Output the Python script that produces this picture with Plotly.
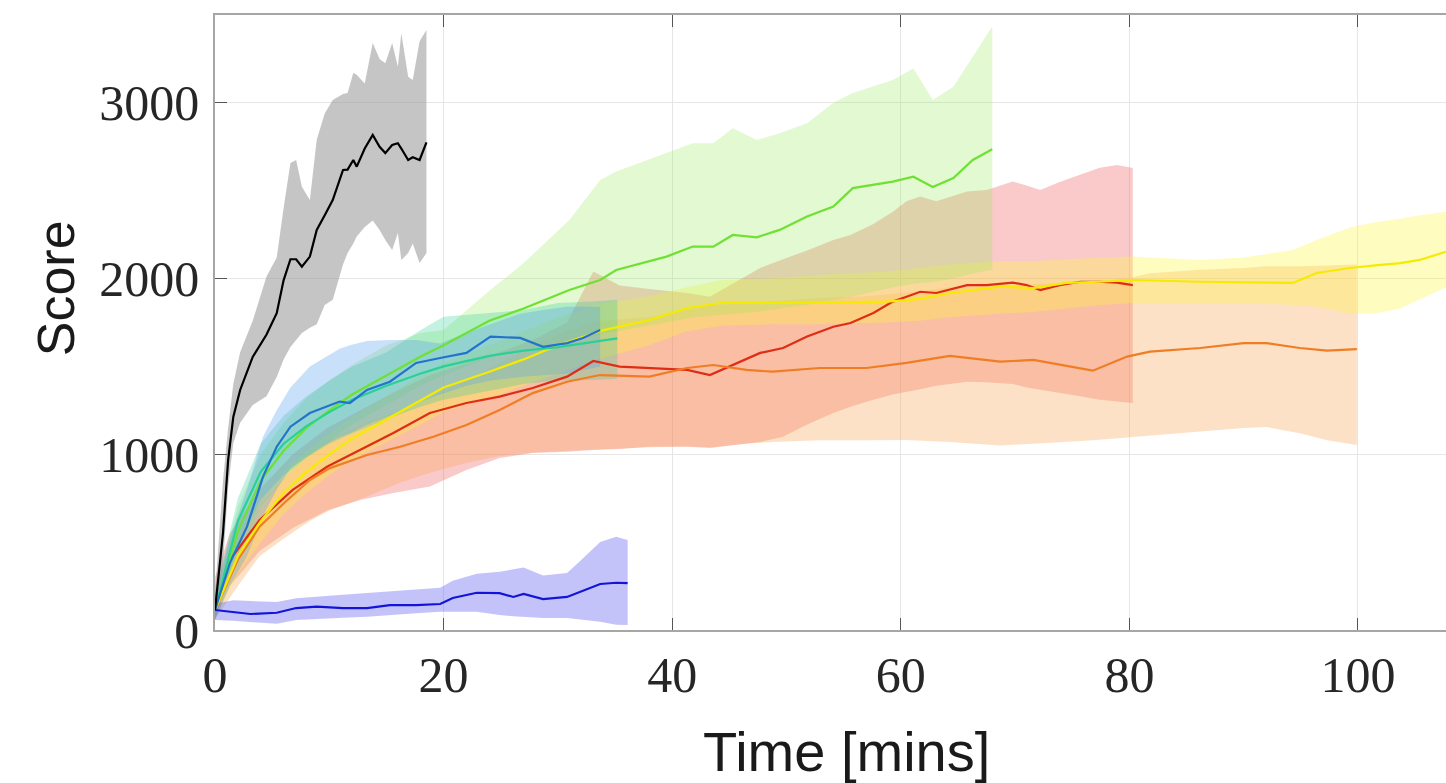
import plotly.graph_objects as go

# ---------------- data ----------------
black_x = [0, 0.3, 0.7, 1.15, 1.6, 2.2, 3.3, 4.5, 5.4, 6.0, 6.6, 7.1, 7.6, 8.3, 8.9, 9.6, 10.3, 11.2, 11.6, 12.1,
           12.4, 13.1, 13.8, 14.4, 14.9, 15.5, 16.0, 16.3, 16.9, 17.3, 17.9, 18.5]
black_mean = [114, 302, 552, 968, 1212, 1366, 1554, 1680, 1803, 1990, 2110, 2110, 2068, 2125, 2277, 2360, 2447, 2618,
              2620, 2675, 2637, 2740, 2817, 2750, 2714, 2760, 2770, 2740, 2675, 2690, 2675, 2775]
black_hi = [200, 500, 850, 1150, 1400, 1580, 1760, 2010, 2120, 2400, 2658, 2675, 2522, 2447, 2790, 2940, 3016, 3050,
            3056, 3170, 3160, 3110, 3340, 3250, 3225, 3340, 3205, 3396, 3148, 3130, 3350, 3415]
black_lo = [60, 200, 380, 814, 1064, 1180, 1280, 1330, 1440, 1540, 1610, 1650, 1690, 1720, 1740, 1850, 1880, 2080,
            2145, 2200, 2240, 2294, 2330, 2277, 2220, 2163, 2260, 2106, 2145, 2200, 2088, 2145]

navy_x = [0, 1.6, 3.1, 5.4, 7.1, 8.9, 11.2, 13.3, 15.3, 17.6, 19.7, 20.8, 22.9, 24.9, 26.1, 27.0, 28.7, 30.8, 31.9,
          33.7, 35.1, 36.1]
navy_mean = [114, 102, 91, 98, 125, 133, 125, 125, 142, 142, 148, 182, 212, 210, 188, 205, 176, 188, 216, 262, 269, 267]
navy_hi = [150, 170, 165, 160, 180, 190, 200, 210, 220, 232, 240, 280, 320, 332, 345, 355, 310, 324, 390, 501, 531, 512]
navy_lo = [57, 52, 47, 35, 57, 62, 70, 76, 85, 96, 104, 104, 104, 85, 78, 72, 68, 68, 60, 47, 30, 28]

blue_x = [0, 1.3, 2.8, 4.2, 5.4, 6.6, 8.3, 9.8, 10.9, 11.8, 13.3, 15.3, 17.6, 19.7, 22, 24.1, 26.7, 28.7, 30.8, 32.2, 33.7]
blue_mean = [114, 381, 588, 873, 1043, 1157, 1235, 1271, 1300, 1292, 1366, 1413, 1520, 1548, 1577, 1670, 1662, 1612,
             1633, 1662, 1707]
blue_hi = [200, 520, 800, 1100, 1250, 1380, 1499, 1560, 1600, 1620, 1645, 1650, 1650, 1630, 1690, 1740, 1800, 1821,
           1840, 1840, 1840]
blue_lo = [60, 250, 420, 650, 800, 920, 1000, 1060, 1100, 1120, 1170, 1220, 1290, 1340, 1390, 1420, 1440, 1450, 1460,
           1480, 1500]

teal_x = [0, 2, 4, 6, 8, 10, 12, 15, 18, 20, 24, 27, 30, 33, 35.2]
teal_mean = [114, 620, 900, 1060, 1160, 1240, 1310, 1390, 1460, 1500, 1560, 1590, 1610, 1640, 1660]
teal_hi = [200, 750, 1060, 1220, 1330, 1420, 1500, 1580, 1707, 1783, 1804, 1821, 1861, 1869, 1880]
teal_lo = [60, 480, 740, 880, 980, 1060, 1120, 1200, 1270, 1310, 1360, 1400, 1420, 1423, 1430]

lime_x = [0, 2, 4, 6, 8, 10, 12, 15, 18, 20, 24, 27, 31, 33.7, 35.1, 39.5, 41.8, 43.6, 45.3, 47.4, 49.4, 51.8, 54.1,
          55.8, 59.3, 61.1, 62.8, 64.6, 66.3, 68]
lime_mean = [114, 560, 850, 1020, 1150, 1250, 1340, 1450, 1556, 1620, 1760, 1830, 1935, 1992, 2049, 2125, 2182, 2182,
             2248, 2235, 2277, 2353, 2410, 2515, 2552, 2580, 2521, 2572, 2675, 2736]
lime_hi = [200, 700, 1000, 1180, 1320, 1420, 1510, 1620, 1690, 1707, 1930, 2088, 2334, 2561, 2609, 2713, 2770, 2770,
           2855, 2789, 2827, 2884, 3000, 3056, 3130, 3196, 3016, 3092, 3263, 3434]
lime_lo = [60, 420, 700, 860, 980, 1080, 1170, 1280, 1390, 1450, 1550, 1600, 1650, 1680, 1700, 1750, 1780, 1790, 1800,
           1810, 1830, 1850, 1880, 1900, 1950, 1970, 1980, 2000, 2030, 2050]

yellow_x = [0, 2, 4, 6, 8, 10, 12, 15, 18, 20, 24, 27, 30, 34, 38, 41.3, 44.2, 48.6, 52.9, 58.8, 61.7, 64.3, 68.7,
            71.6, 74.5, 77.4, 80.3, 86.2, 90, 94.3, 96.4, 99.3, 101.5, 103.7, 105.4, 107.7]
yellow_mean = [114, 420, 620, 780, 900, 1000, 1090, 1200, 1310, 1380, 1470, 1540, 1620, 1707, 1764, 1832, 1861, 1861,
               1863, 1869, 1884, 1918, 1954, 1946, 1975, 1982, 1992, 1982, 1980, 1975, 2032, 2060, 2075, 2088, 2106,
               2153]
yellow_hi = [200, 520, 740, 900, 1020, 1120, 1210, 1330, 1450, 1520, 1620, 1700, 1780, 1860, 1900, 1950, 1990, 2000,
             2020, 2040, 2060, 2080, 2100, 2100, 2110, 2120, 2125, 2106, 2120, 2163, 2220, 2290, 2320, 2340, 2360, 2380]
yellow_lo = [60, 320, 500, 660, 780, 880, 970, 1070, 1170, 1240, 1320, 1390, 1460, 1550, 1620, 1700, 1730, 1740, 1740,
             1750, 1760, 1780, 1800, 1810, 1830, 1850, 1860, 1860, 1860, 1850, 1840, 1800, 1800, 1830, 1880, 1950]

orange_x = [0, 2, 3.9, 6, 8.3, 10, 13.3, 16.2, 19.1, 22, 24.9, 27.8, 30.8, 33.7, 38, 41.3, 43.6, 46.5, 48.8, 52.9, 57,
            60.5, 64.3, 68.7, 71.6, 76.8, 79.8, 81.8, 86.2, 90, 92, 94.9, 97.3, 99.9]
orange_mean = [114, 400, 588, 720, 854, 920, 996, 1043, 1100, 1167, 1252, 1348, 1413, 1451, 1442, 1491, 1508, 1480,
               1470, 1491, 1491, 1520, 1560, 1527, 1537, 1476, 1556, 1584, 1605, 1633, 1633, 1605, 1590, 1599]
orange_hi = [250, 520, 720, 860, 1000, 1080, 1180, 1250, 1330, 1420, 1520, 1620, 1700, 1760, 1780, 1820, 1850, 1860,
             1870, 1890, 1900, 1920, 1950, 1960, 1970, 1980, 2000, 2030, 2050, 2060, 2070, 2070, 2075, 2080]
orange_lo = [60, 250, 420, 520, 620, 680, 760, 840, 900, 950, 990, 1010, 1020, 1030, 1040, 1045, 1040, 1060, 1070,
             1080, 1080, 1081, 1070, 1050, 1060, 1080, 1100, 1110, 1130, 1150, 1155, 1120, 1080, 1053]

red_x = [0, 1.3, 3.9, 6.8, 9.8, 12.7, 15.6, 18.8, 22, 24.9, 27.8, 30.8, 33.1, 35.4, 38, 41.3, 43.3, 45, 47.7, 49.7,
         51.8, 54.1, 55.6, 57.6, 59.3, 60.5, 61.7, 63.1, 65.8, 67.5, 69.8, 71, 72.2, 73.9, 75.7, 77.4, 78.9, 80.3]
red_mean = [114, 398, 626, 797, 929, 1025, 1121, 1235, 1292, 1328, 1377, 1442, 1531, 1499, 1490, 1480, 1451, 1499,
            1577, 1605, 1670, 1726, 1747, 1804, 1869, 1897, 1925, 1918, 1963, 1963, 1977, 1963, 1935, 1963, 1982, 1982,
            1977, 1963]
red_hi = [300, 550, 800, 1000, 1150, 1250, 1350, 1450, 1520, 1580, 1650, 1750, 2040, 1960, 1940, 1918, 1897, 1960,
          2060, 2110, 2160, 2220, 2248, 2310, 2380, 2440, 2467, 2440, 2495, 2504, 2552, 2530, 2504, 2550, 2590, 2630,
          2647, 2629]
red_lo = [60, 250, 450, 580, 680, 740, 780, 816, 911, 979, 1007, 1015, 1025, 1030, 1043, 1043, 1036, 1050, 1070, 1100,
          1170, 1235, 1270, 1310, 1340, 1355, 1370, 1390, 1413, 1410, 1400, 1380, 1366, 1350, 1330, 1310, 1300, 1292]

x_ticks = [0, 20, 40, 60, 80, 100]
x_tick_labels = ["0", "20", "40", "60", "80", "100"]
y_ticks = [0, 1000, 2000, 3000]
y_tick_labels = ["0", "1000", "2000", "3000"]

# ---------------- series styling ----------------
series = [
    ("red", red_x, red_mean, red_lo, red_hi, "rgb(222,45,20)", "rgba(240,95,95,0.33)"),
    ("orange", orange_x, orange_mean, orange_lo, orange_hi, "rgb(240,125,35)", "rgba(246,170,95,0.35)"),
    ("yellow", yellow_x, yellow_mean, yellow_lo, yellow_hi, "rgb(245,235,0)", "rgba(255,245,60,0.32)"),
    ("lime", lime_x, lime_mean, lime_lo, lime_hi, "rgb(110,225,50)", "rgba(150,235,90,0.28)"),
    ("teal", teal_x, teal_mean, teal_lo, teal_hi, "rgb(40,210,150)", "rgba(40,205,150,0.28)"),
    ("blue", blue_x, blue_mean, blue_lo, blue_hi, "rgb(35,115,205)", "rgba(90,160,240,0.33)"),
    ("navy", navy_x, navy_mean, navy_lo, navy_hi, "rgb(20,20,215)", "rgba(90,90,240,0.36)"),
    ("black", black_x, black_mean, black_lo, black_hi, "rgb(0,0,0)", "rgba(150,150,150,0.55)"),
]

fig = go.Figure()
for name, xs, m, lo, hi, lc, fc in series:
    fig.add_trace(go.Scatter(
        x=list(xs) + list(xs)[::-1], y=list(hi) + list(lo)[::-1],
        fill="toself", fillcolor=fc, line=dict(width=0), mode="lines",
        hoverinfo="skip", showlegend=False))
for name, xs, m, lo, hi, lc, fc in series:
    fig.add_trace(go.Scatter(x=xs, y=m, mode="lines", name=name,
                             line=dict(color=lc, width=2.2), showlegend=False))

tick_font = dict(family="Liberation Serif, DejaVu Serif, serif", size=50, color="#262626")
fig.update_layout(
    width=1446, height=783,
    margin=dict(l=215, r=0, t=15, b=153),
    paper_bgcolor="white", plot_bgcolor="white",
    showlegend=False,
    xaxis=dict(range=[0, 107.7], tickvals=x_ticks, ticktext=x_tick_labels,
               showgrid=True, gridcolor="#e6e6e6", gridwidth=1, zeroline=False,
               showline=True, linecolor="#a6a6a6", linewidth=1.5, mirror="ticks",
               ticks="inside", ticklen=12, tickcolor="#555555", tickwidth=1,
               tickfont=tick_font, ticklabelstandoff=0),
    yaxis=dict(range=[0, 3500], tickvals=y_ticks, ticktext=y_tick_labels,
               showgrid=True, gridcolor="#e6e6e6", gridwidth=1, zeroline=False,
               showline=True, linecolor="#a6a6a6", linewidth=1.5, mirror=False,
               ticks="inside", ticklen=12, tickcolor="#555555", tickwidth=1,
               tickfont=tick_font, ticklabelstandoff=4),
    annotations=[
        dict(text="Time [mins]", xref="paper", yref="paper", x=0.5126, y=-0.198,
             xanchor="center", yanchor="middle", showarrow=False,
             font=dict(family="Liberation Sans, Arial, sans-serif", size=56, color="#1a1a1a")),
        dict(text="Score", xref="paper", yref="paper", x=-0.129, y=0.556, textangle=-90,
             xanchor="center", yanchor="middle", showarrow=False,
             font=dict(family="Liberation Sans, Arial, sans-serif", size=52, color="#1a1a1a")),
    ],
)

fig.write_html("out.html",
               config={"displayModeBar": False},
               post_script="document.body.style.margin='0';document.body.style.overflow='hidden';")
